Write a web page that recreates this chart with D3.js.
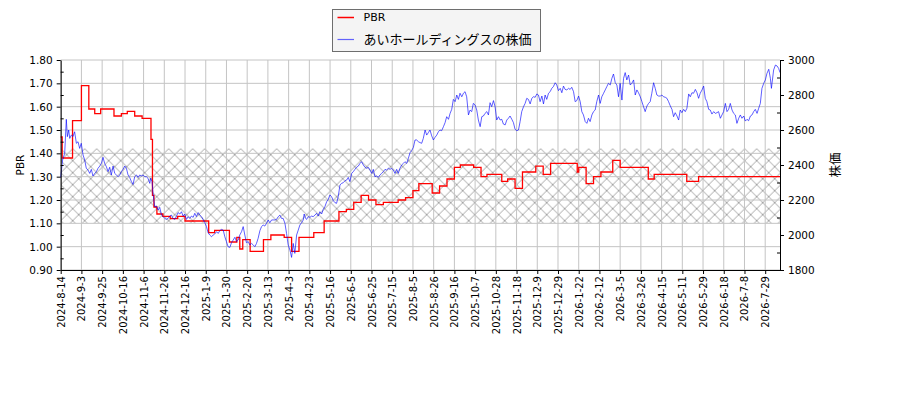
<!DOCTYPE html>
<html>
<head>
<meta charset="utf-8">
<script src="https://cdn.jsdelivr.net/npm/d3@7"></script>
<style>
  body { margin: 0; background: #fff; }
  svg { display: block; }
  text { font-family: "DejaVu Sans", "Noto Sans CJK JP", sans-serif; fill: #000; }
</style>
</head>
<body>
<div id="chart"></div>
<script>
// DATA (x values are trading-day numbers counted from 2024-8-14)
const xTickLabels = ["2024-8-14","2024-9-3","2024-9-25","2024-10-16","2024-11-6","2024-11-26","2024-12-16",
  "2025-1-9","2025-1-30","2025-2-20","2025-3-13","2025-4-3","2025-4-23","2025-5-16","2025-6-5","2025-6-25",
  "2025-7-15","2025-8-5","2025-8-26","2025-9-16","2025-10-7","2025-10-28","2025-11-18","2025-12-9","2025-12-29",
  "2026-1-22","2026-2-12","2026-3-5","2026-3-26","2026-4-15","2026-5-11","2026-5-29","2026-6-18","2026-7-8","2026-7-29"];
const xTickDays = xTickLabels.map((d, i) => i * 14);
const lastDay = 486;

const pbrTicks = [0.90, 1.00, 1.10, 1.20, 1.30, 1.40, 1.50, 1.60, 1.70, 1.80];
const priceTicks = [1800, 2000, 2200, 2400, 2600, 2800, 3000];

// hatched PBR band (low, high)
const pbrBand = [1.10, 1.42];

// PBR steps: [day, value]
const pbrSteps = [[0,1.47],[1,1.38],[8,1.54],[14,1.69],[19,1.59],[23,1.57],[27,1.59],[36,1.56],[41,1.57],
  [45,1.58],[50,1.56],[55,1.55],[61,1.46],[62,1.22],[63,1.17],[65,1.14],[69,1.13],[74,1.12],[79,1.13],
  [84,1.11],[100,1.06],[104,1.07],[114,1.02],[119,1.04],[121,0.99],[123,1.03],[128,0.98],[137,1.03],
  [142,1.05],[151,1.04],[156,0.98],[161,1.04],[171,1.06],[178,1.11],[188,1.15],[193,1.16],[198,1.19],
  [203,1.22],[208,1.20],[213,1.18],[218,1.19],[228,1.20],[233,1.21],[238,1.24],[242,1.27],[251,1.23],
  [256,1.26],[261,1.29],[266,1.34],[270,1.35],[279,1.34],[284,1.30],[288,1.31],[298,1.28],[302,1.29],
  [307,1.25],[312,1.32],[321,1.345],[326,1.31],[331,1.357],[349,1.32],[350,1.34],[355,1.27],[360,1.30],
  [365,1.32],[373,1.37],[378,1.34],[397,1.29],[401,1.31],[423,1.28],[431,1.30],[486,1.30]];

// share price: [day, yen]
const price = [[0,2329],[1.3,2429],[2.7,2467],[3.8,2661],[4.5,2562],[5.4,2600],[6.1,2552],[7.2,2571],[8.3,2562],
  [9.4,2590],[10.6,2524],[11.7,2533],[12.8,2495],[13.9,2524],[15.1,2457],[16.2,2429],[17.3,2381],[18.5,2371],
  [19.6,2352],[20.7,2375],[21.8,2337],[23,2352],[24.1,2362],[25.2,2381],[26.4,2394],[27.5,2409],[28.6,2444],
  [29.7,2409],[30.9,2390],[32,2362],[33.1,2387],[34.2,2343],[35.4,2394],[36.5,2352],[37.6,2343],[38.8,2333],
  [39.9,2343],[41,2362],[42.1,2375],[43.3,2394],[44.4,2381],[45.5,2343],[46.6,2329],[47.8,2305],[48.9,2289],
  [50,2333],[51.2,2343],[52.3,2329],[53.4,2343],[54.5,2337],[55.7,2343],[56.8,2333],[57.9,2333],[59,2324],
  [60.2,2295],[60.8,2324],[61.7,2305],[62.4,2238],[63.5,2162],[64.7,2166],[65.8,2143],[66.9,2158],[68.1,2114],
  [69.2,2105],[70.3,2095],[71.4,2089],[72.6,2095],[73.7,2108],[74.8,2114],[75.9,2095],[77.1,2089],[78.2,2108],
  [79.3,2128],[80.5,2120],[81.6,2133],[82.7,2108],[83.8,2120],[85,2089],[86.1,2105],[87.2,2095],[88.3,2108],
  [89.5,2101],[90.6,2124],[91.7,2105],[92.9,2128],[94,2114],[95.1,2105],[96.2,2089],[97.4,2070],[98.5,2048],
  [99.6,2013],[100.7,2000],[101.9,1990],[103,2000],[104.1,2006],[105.3,2019],[106.4,2009],[107.5,2025],
  [108.6,2032],[109.8,2028],[110.9,1990],[112,1962],[113.1,1933],[114.3,1929],[115.4,1956],[116.5,1971],
  [117.7,1987],[118.8,1962],[119.9,1971],[121,2000],[122.2,2019],[123.3,2048],[124.4,2000],[125.5,1956],
  [126.7,1962],[127.8,1943],[128.9,1952],[130.1,1943],[131.2,1933],[132.3,1952],[133.4,1981],[134.6,2025],
  [135.7,2048],[136.8,2057],[137.9,2051],[139.1,2067],[140.2,2086],[141.3,2070],[142.5,2086],[143.6,2086],
  [144.7,2086],[145.8,2089],[147,2105],[148.1,2114],[149.2,2095],[150.3,2095],[151.5,2067],[152.6,2009],
  [153.7,1943],[154.9,1914],[156,1872],[157.1,1952],[158.2,1895],[159.4,2000],[160.5,2028],[161.6,2057],
  [162.7,2070],[163.9,2086],[164.5,2120],[165.5,2095],[166.1,2089],[167.3,2105],[168.4,2101],[169.5,2108],
  [170.6,2105],[171.8,2114],[172.9,2124],[174,2108],[175.1,2133],[176.3,2120],[177.4,2147],[178.5,2162],
  [179.7,2190],[180.8,2204],[181.9,2229],[183,2219],[184.2,2196],[185.3,2185],[186.4,2181],[187.5,2219],
  [188.7,2286],[189.8,2295],[190.9,2299],[192.1,2310],[193.2,2314],[194.3,2329],[195.4,2305],[196.6,2352],
  [197.7,2362],[198.8,2375],[199.9,2387],[201.1,2394],[202.2,2409],[203.3,2419],[204.5,2400],[205.6,2387],
  [206.7,2381],[207.8,2387],[209,2371],[210.1,2352],[211.2,2375],[212.3,2333],[213.5,2337],[214.6,2329],
  [215.7,2343],[216.8,2352],[218,2362],[219.1,2375],[220.2,2371],[221.4,2381],[222.5,2375],[223.6,2381],
  [224.7,2371],[225.9,2352],[227,2375],[228.1,2352],[229.2,2381],[230.4,2400],[231.5,2409],[232.6,2419],
  [233.8,2409],[234.9,2438],[236,2470],[237.1,2482],[238.3,2501],[239.4,2543],[240.5,2543],[241.7,2533],
  [242.8,2528],[243.9,2524],[245,2552],[246.2,2600],[247.3,2571],[248.4,2585],[249.5,2600],[250.7,2566],
  [251.8,2543],[252.9,2558],[254.1,2571],[255.2,2590],[256.3,2600],[257.4,2596],[258.6,2619],[259.7,2642],
  [260.8,2676],[262,2661],[263.1,2695],[264.2,2718],[265.3,2775],[266.5,2762],[267.6,2800],[268.7,2775],
  [269.8,2810],[271,2790],[272.1,2810],[273.2,2819],[274.3,2790],[275.5,2686],[276.6,2714],[277.7,2705],
  [278.8,2752],[280,2743],[281.1,2714],[282.2,2657],[283.4,2619],[284.5,2676],[285.6,2680],[286.7,2695],
  [287.9,2705],[289,2686],[290.1,2756],[291.2,2733],[292.4,2768],[293.5,2733],[294.6,2657],[295.8,2676],
  [296.9,2657],[298,2661],[299.1,2634],[300.3,2629],[301.4,2657],[302.5,2667],[303.6,2680],[304.8,2661],
  [305.9,2642],[307,2604],[308.2,2596],[309.3,2600],[310.4,2648],[311.5,2705],[312.7,2733],[313.8,2752],
  [314.9,2781],[316,2775],[317.2,2749],[318.3,2781],[319.4,2790],[320.6,2787],[321.7,2806],[322.8,2800],
  [323.9,2762],[325.1,2794],[326.2,2749],[327.3,2800],[328.4,2775],[329.6,2810],[330.7,2819],[331.8,2838],
  [332.9,2848],[334.1,2870],[335.2,2857],[336.3,2825],[337.5,2838],[338.6,2813],[339.7,2851],[340.8,2832],
  [342,2829],[343.1,2838],[344.2,2832],[345.3,2844],[346.5,2819],[347.6,2762],[348.7,2768],[349.9,2794],
  [351,2762],[352.1,2705],[353.2,2686],[354.4,2648],[355.5,2638],[356.6,2667],[357.7,2648],[358.9,2686],
  [360,2705],[361.1,2714],[362.2,2762],[363.4,2800],[364.5,2752],[365.6,2790],[366.8,2810],[367.9,2829],
  [369,2848],[370.1,2867],[371.3,2857],[372.4,2895],[373.5,2920],[374.7,2870],[375.8,2857],[376.9,2790],
  [378,2867],[379.2,2771],[380.3,2895],[381.4,2928],[382.5,2886],[383.7,2914],[384.8,2857],[385.9,2867],
  [387.1,2886],[388.2,2800],[389.3,2829],[390.4,2813],[391.6,2790],[392.7,2762],[393.8,2733],[394.9,2705],
  [396.1,2737],[397.2,2752],[398.3,2762],[399.4,2810],[400.6,2870],[401.7,2838],[402.8,2800],[404,2794],
  [405.1,2794],[406.2,2800],[407.3,2790],[408.5,2787],[409.6,2781],[410.7,2762],[411.9,2737],[413,2718],
  [414.1,2676],[415.2,2699],[416.4,2680],[417.5,2657],[418.6,2714],[419.7,2699],[420.9,2718],[422,2705],
  [423.1,2724],[424.3,2806],[425.4,2790],[426.5,2813],[427.6,2810],[428.8,2832],[429.9,2813],[431,2781],
  [432.1,2810],[433.3,2829],[434.4,2851],[435.5,2781],[436.6,2762],[437.8,2718],[438.9,2714],[440,2691],
  [441.2,2705],[442.3,2695],[443.4,2699],[444.5,2705],[445.7,2667],[446.8,2686],[447.9,2705],[449.1,2752],
  [450.2,2705],[451.3,2718],[452.4,2752],[453.6,2714],[454.7,2695],[455.8,2686],[456.9,2638],[458.1,2667],
  [459.2,2686],[460.3,2667],[461.5,2680],[462.6,2651],[463.7,2661],[464.8,2653],[466,2680],[467.1,2686],
  [468.2,2705],[469.3,2718],[470.5,2695],[471.6,2724],[472.7,2752],[473.8,2838],[475,2867],[476.1,2886],
  [477.2,2924],[478.4,2947],[479.5,2895],[480.2,2838],[481.7,2943],[482.9,2971],[484,2966],[485.1,2952],
  [486,2928]];

const seriesNames = ["PBR", "あいホールディングスの株価"];


class DualAxisChart {
    constructor(container, width, height, margin) {
        this.container = container;
        this.width = width;
        this.height = height;
        this.margin = margin;

        this.setUpSVG();
        this.getScales();
        this.drawBand();
        this.drawGrid();
        this.drawLines();
        this.drawAxes();
        this.drawTitles();
        this.drawLegend();
    }

    // SET UP SVG
    setUpSVG() {
        this.svg = this.container.append("svg")
            .attr("width", this.width)
            .attr("height", this.height);
    }

    // SCALES
    getScales() {
        const m = this.margin;
        this.x = d3.scaleLinear().domain([0, lastDay]).range([m.left, this.width - m.right]);
        this.yLeft = d3.scaleLinear().domain([0.9, 1.8]).range([this.height - m.bottom, m.top]);
        this.yRight = d3.scaleLinear().domain([1800, 3000]).range([this.height - m.bottom, m.top]);
    }

    // HATCHED BAND
    drawBand() {
        const pattern = this.svg.append("defs").append("pattern")
            .attr("id", "hatch")
            .attr("patternUnits", "userSpaceOnUse")
            .attr("width", 12)
            .attr("height", 12)
            .attr("x", this.margin.left)
            .attr("y", this.yLeft(pbrBand[1]));
        pattern.append("path")
            .attr("d", "M0,0L12,12M12,0L0,12M-2,2L2,-2M10,14L14,10M-2,10L2,14M10,-2L14,2")
            .attr("stroke", "#a6a6a6")
            .attr("stroke-width", 1)
            .attr("fill", "none");

        this.svg.append("rect")
            .attr("x", this.x(0))
            .attr("y", this.yLeft(pbrBand[1]))
            .attr("width", this.x(lastDay) - this.x(0))
            .attr("height", this.yLeft(pbrBand[0]) - this.yLeft(pbrBand[1]))
            .attr("fill", "url(#hatch)");
    }

    // GRID
    drawGrid() {
        const g = this.svg.append("g").attr("class", "grid")
            .attr("stroke", "#c4c4c4").attr("stroke-width", 1);
        g.selectAll(".vx").data(xTickDays).enter().append("line")
            .attr("x1", d => this.x(d)).attr("x2", d => this.x(d))
            .attr("y1", this.yLeft(0.9)).attr("y2", this.yLeft(1.8));
        g.selectAll(".hy").data(pbrTicks).enter().append("line")
            .attr("x1", this.x(0)).attr("x2", this.x(lastDay))
            .attr("y1", d => this.yLeft(d)).attr("y2", d => this.yLeft(d));
    }

    // LINES
    drawLines() {
        const pbrLine = d3.line()
            .x(d => this.x(d[0]))
            .y(d => this.yLeft(d[1]))
            .curve(d3.curveStepAfter);
        this.svg.append("path")
            .datum(pbrSteps)
            .attr("d", pbrLine)
            .attr("fill", "none")
            .attr("stroke", "#ff0000")
            .attr("stroke-width", 1.3);

        const priceLine = d3.line()
            .x(d => this.x(d[0]))
            .y(d => this.yRight(d[1]));
        this.svg.append("path")
            .datum(price)
            .attr("d", priceLine)
            .attr("fill", "none")
            .attr("stroke", "#0000ff")
            .attr("stroke-opacity", 0.7)
            .attr("stroke-width", 0.9);
    }

    // AXES
    drawAxes() {
        const m = this.margin;
        const bottom = this.height - m.bottom;

        const xAxis = d3.axisBottom(this.x)
            .tickValues(xTickDays)
            .tickFormat((d, i) => xTickLabels[i])
            .tickSize(4)
            .tickSizeOuter(0);
        this.svg.append("g")
            .attr("class", "x-axis")
            .attr("transform", `translate(0, ${bottom})`)
            .call(xAxis)
            .selectAll("text")
            .attr("transform", "rotate(-90)")
            .attr("x", -6)
            .attr("y", 0)
            .attr("dy", "0.35em")
            .attr("font-size", 10)
            .style("text-anchor", "end");

        const yAxis = d3.axisLeft(this.yLeft)
            .tickValues(pbrTicks)
            .tickFormat(d3.format(".2f"))
            .tickSize(4)
            .tickPadding(4)
            .tickSizeOuter(0);
        this.svg.append("g")
            .attr("class", "y-axis")
            .attr("transform", `translate(${this.x(0)}, 0)`)
            .call(yAxis)
            .selectAll("text")
            .attr("font-size", 10.5);

        // minor ticks point inward
        this.svg.append("g")
            .attr("transform", `translate(${this.x(0)}, 0)`)
            .call(d3.axisLeft(this.yLeft).tickValues(pbrTicks.slice(1).map(d => d - 0.05)).tickSize(-3).tickFormat(""))
            .select(".domain").remove();

        const y2Axis = d3.axisRight(this.yRight)
            .tickValues(priceTicks)
            .tickFormat(d3.format("d"))
            .tickSize(4)
            .tickPadding(4)
            .tickSizeOuter(0);
        this.svg.append("g")
            .attr("class", "y2-axis")
            .attr("transform", `translate(${this.x(lastDay)}, 0)`)
            .call(y2Axis)
            .selectAll("text")
            .attr("font-size", 10.5);

        this.svg.append("g")
            .attr("transform", `translate(${this.x(lastDay)}, 0)`)
            .call(d3.axisRight(this.yRight).tickValues(priceTicks.slice(1).map(d => d - 100)).tickSize(-3).tickFormat(""))
            .select(".domain").remove();

        this.svg.selectAll(".domain").attr("stroke", "#000");
        this.svg.selectAll(".tick line").attr("stroke", "#000");
        this.svg.selectAll(".tick text").style("font-family", "DejaVu Sans");
    }

    // AXIS TITLES
    drawTitles() {
        const midY = (this.yLeft(0.9) + this.yLeft(1.8)) / 2;
        this.svg.append("text")
            .attr("transform", `translate(20, ${midY}) rotate(-90)`)
            .attr("text-anchor", "middle")
            .attr("dy", "0.35em")
            .attr("font-size", 10.5)
            .text("PBR");
        this.svg.append("text")
            .attr("transform", `translate(836, ${midY}) rotate(-90)`)
            .attr("text-anchor", "middle")
            .attr("dy", "0.35em")
            .attr("font-size", 12.5)
            .style("font-family", "Noto Sans CJK JP")
            .text("株価");
    }

    // LEGEND
    drawLegend() {
        const lg = this.svg.append("g").attr("class", "legend");
        lg.append("rect")
            .attr("x", 332.5).attr("y", 9.5)
            .attr("width", 208).attr("height", 42)
            .attr("fill", "#f4f4f4")
            .attr("stroke", "#6e6e6e")
            .attr("stroke-width", 1);

        const styles = [
            { color: "#ff0000", opacity: 1, width: 1.5, size: 11, font: "DejaVu Sans" },
            { color: "#0000ff", opacity: 0.6, width: 1.2, size: 13, font: "Noto Sans CJK JP" }
        ];
        seriesNames.forEach((name, i) => {
            const y = 17.5 + i * 22;
            lg.append("line")
                .attr("x1", 337.5).attr("x2", 354)
                .attr("y1", y).attr("y2", y)
                .attr("stroke", styles[i].color)
                .attr("stroke-opacity", styles[i].opacity)
                .attr("stroke-width", styles[i].width);
            lg.append("text")
                .attr("x", 363.5).attr("y", y)
                .attr("dy", "0.35em")
                .attr("font-size", styles[i].size)
                .style("font-family", styles[i].font)
                .attr("fill", "#222")
                .text(name);
        });
    }
}

new DualAxisChart(d3.select("#chart"), 900, 400, { top: 60, right: 120, bottom: 130, left: 60.7 });
</script>
</body>
</html>
